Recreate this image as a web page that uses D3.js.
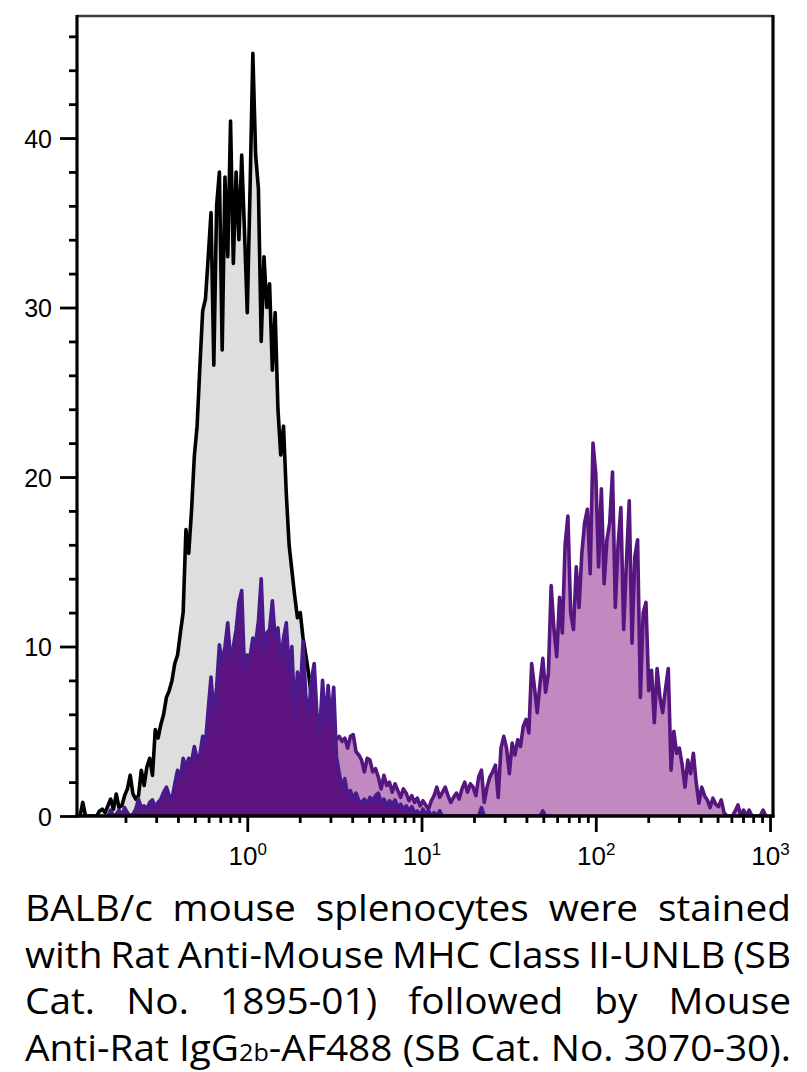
<!DOCTYPE html>
<html><head><meta charset="utf-8">
<script src="https://cdn.jsdelivr.net/npm/d3@7"></script>
<style>body{margin:0;background:#fff}</style>
</head><body><svg id="c" width="807" height="1072"></svg>
<script>
// ---------- DATA ----------
// Channel layout: channel k sits at log10(intensity) = channelStartLog + channelStepLog*k
const channelStartLog = -0.96;
const channelStepLog = 0.016;

// Unstained control (gray fill, black outline), starting at channel 0
const controlStart = 0;
const controlCounts = [
  0, 0.8, 0, 0, 0, 0, 0, 0.3, 0.4, 0.2,
  0.6, 1.0, 0.4, 1.3, 0.5, 0.6, 1.2, 1.6, 2.4, 1.3,
  1.0, 1.2, 2.7, 1.8, 2.9, 3.4, 2.4, 5.1, 4.6, 5.4,
  6.0, 7.0, 7.4, 8.0, 9.0, 9.5, 10.8, 12.0, 16.9, 15.5,
  18.0, 21.2, 23.0, 26.5, 29.8, 30.5, 33.0, 35.6, 26.6, 36.0,
  38.0, 27.5, 37.7, 33.0, 41.0, 32.6, 38.0, 34.0, 39.0, 34.5,
  29.7, 37.0, 45.0, 39.0, 37.0, 28.0, 33.0, 30.0, 31.4, 26.3,
  29.7, 24.0, 21.3, 23.0, 19.0, 16.0, 14.5, 13.0, 11.7, 12.0,
  10.5, 9.5, 8.4, 7.0, 5.5, 4.0, 3.0, 2.5, 1.5, 1.2,
  0.8, 0.5, 0.4, 0.6, 0.3, 0.5, 0.2, 0.4, 0.3, 0.2,
  0.5, 0.2, 0.3, 0.1, 0.4, 0.2, 0.3, 0.1, 0.5, 0.3,
  0.95, 0.2, 0
];

// Stained: MHC II negative population (dark purple), starting at channel 10
const negStart = 10;
const negCounts = [
  0, 0.35, 0, 0.1, 0.35, 0, 0.5, 0.2, 0, 0.1,
  0.4, 1.0, 0.5, 0.6, 0.4, 0.8, 0.95, 0.5, 0.8, 1.0,
  1.4, 1.7, 1.2, 1.0, 1.9, 2.7, 2.2, 3.4, 2.9, 3.4,
  3.2, 4.1, 3.4, 3.6, 4.7, 4.3, 6.3, 8.2, 6.0, 7.6,
  10.1, 9.0, 10.0, 11.4, 9.2, 10.0, 11.0, 12.6, 13.3, 8.6,
  9.5, 9.4, 10.5, 10.2, 11.5, 14.0, 9.8, 10.8, 11.0, 12.7,
  10.5, 11.1, 9.0, 10.5, 11.4, 8.5, 10.0, 5.9, 8.5, 7.2,
  10.3, 7.0, 6.0, 8.0, 9.0, 6.0, 5.0, 8.0, 5.5, 7.7,
  5.5, 7.6, 3.5, 2.5, 1.7, 2.2, 1.2, 1.5, 1.0, 1.35,
  0.9, 0.8, 1.0, 0.7, 1.1, 0.9, 1.2, 1.35, 0.8, 1.0,
  0.6, 0.9, 0.7, 0.95, 0.5, 0.7, 0.4, 0.6, 0.3, 0.55,
  0.2, 0.3, 0, 0.4, 0.1, 0.3, 0, 0.2, 0, 0.3,
  0, 0, 0, 0, 0, 0, 0, 0, 0, 0,
  0, 0, 0, 0, 0.5, 0, 0, 0, 0, 0,
  0, 0, 0, 0, 0, 0, 0, 0, 0, 0,
  0, 0, 0, 0, 0, 0, 0.3, 0, 0, 0
];

// Stained: MHC II positive population (light purple), starting at channel 85
const posStart = 85;
const posCounts = [
  3.0, 3.5, 4.0, 3.8, 4.5,
  4.2, 5.0, 4.5, 4.7, 4.4, 4.6, 4.0, 4.7, 4.8, 3.8,
  3.6, 3.3, 2.6, 3.4, 3.3, 2.6, 2.8, 2.3, 1.6, 2.4,
  1.8, 2.0, 1.4, 1.9, 1.5, 1.1, 1.6, 1.35, 0.9, 1.2,
  0.8, 1.06, 0.6, 0.9, 0.65, 0.4, 0.9, 1.2, 1.7, 1.1,
  1.4, 1.7, 1.2, 0.8, 1.1, 1.35, 1.0, 1.6, 2.0, 1.4,
  1.9, 1.7, 1.2, 2.3, 2.7, 0.8, 1.7, 2.3, 2.6, 3.0,
  1.1, 4.0, 4.7, 4.0, 2.5, 4.3, 3.6, 4.5, 4.1, 5.3,
  5.7, 4.9, 9.0, 7.6, 6.1, 7.8, 9.3, 7.3, 8.4, 13.6,
  11.0, 9.4, 12.9, 10.8, 16.0, 17.7, 12.0, 11.0, 14.7, 12.3,
  15.5, 17.3, 18.1, 14.3, 22.0, 20.2, 14.7, 19.3, 13.7, 16.3,
  17.3, 20.3, 12.3, 16.0, 18.2, 11.0, 15.0, 18.6, 10.2, 15.3,
  16.3, 7.0, 12.0, 12.6, 7.4, 8.6, 5.5, 8.7, 7.0, 6.1,
  7.5, 8.7, 2.7, 5.0, 3.7, 4.0, 3.0, 1.7, 3.3, 2.5,
  3.7, 2.0, 0.75, 1.7, 1.2, 0.95, 0.5, 1.05, 0.7, 0.55,
  0.95, 0.2, 0, 0, 0, 0.3, 0.65, 0, 0.35, 0,
  0.35, 0, 0, 0, 0, 0.35, 0
];

const yTickValues = [0, 10, 20, 30, 40];
const yMinorValues = [2,4,6,8,12,14,16,18,22,24,26,28,32,34,36,38,42,44,46];
const xMajorValues = [1, 10, 100, 1000];
const xMajorExponents = ["0", "1", "2", "3"];
const xMinorValues = [0.2,0.3,0.4,0.5,0.6,0.7,0.8,0.9,2,3,4,5,6,7,8,9,20,30,40,50,60,70,80,90,200,300,400,500,600,700,800,900];

const captionLines = [
  "BALB/c mouse splenocytes were stained",
  "with Rat Anti-Mouse MHC Class II-UNLB (SB",
  "Cat. No. 1895-01) followed by Mouse",
  "Anti-Rat IgG{2b}-AF488 (SB Cat. No. 3070-30)."
];

// ---------- LAYOUT ----------
const svg = d3.select("#c");
const L = 77, R = 773, T = 16, B = 816;
const x = d3.scaleLog().domain([0.1054, 1040]).range([L, R]);
const y = d3.scaleLinear().domain([0, 47.2]).range([B, T]);

function toPoints(start, counts) {
  return counts.map((c, k) => ({ v: Math.pow(10, channelStartLog + channelStepLog * (start + k)), c }));
}
const area = d3.area().x(d => x(d.v)).y0(y(0)).y1(d => y(d.c));
const line = d3.line().x(d => x(d.v)).y(d => y(d.c));

svg.append("defs").append("clipPath").attr("id", "plotclip")
  .append("rect").attr("x", L).attr("y", T).attr("width", R - L).attr("height", B - T);

const plot = svg.append("g").attr("clip-path", "url(#plotclip)");

const seriesDefs = [
  { pts: toPoints(controlStart, controlCounts), fill: "#dedede", stroke: "#000000" },
  { pts: toPoints(posStart, posCounts), fill: "#c089c0", stroke: "#56167f" },
  { pts: toPoints(negStart, negCounts), fill: "#5d1480", stroke: "#4a1a8c" }
];
seriesDefs.forEach(s => {
  plot.append("path").datum(s.pts).attr("d", area).attr("fill", s.fill);
  plot.append("path").datum(s.pts).attr("d", line)
    .attr("fill", "none").attr("stroke", s.stroke).attr("stroke-width", 3.6)
    .attr("stroke-linejoin", "round").attr("stroke-linecap", "round");
});

// Axes
const axisFont = "'Liberation Sans', Arial, sans-serif";
const yMajor = svg.append("g").attr("transform", `translate(${L},0)`)
  .call(d3.axisLeft(y).tickValues(yTickValues).tickSize(17).tickPadding(8).tickFormat(d3.format("d")));
const yMinor = svg.append("g").attr("transform", `translate(${L},0)`)
  .call(d3.axisLeft(y).tickValues(yMinorValues).tickSize(8).tickFormat(""));
const xMajor = svg.append("g").attr("transform", `translate(0,${B})`)
  .call(d3.axisBottom(x).tickValues(xMajorValues).tickSize(16).tickFormat(""));
const xMinor = svg.append("g").attr("transform", `translate(0,${B})`)
  .call(d3.axisBottom(x).tickValues(xMinorValues).tickSize(7).tickFormat(""));

[yMajor, yMinor, xMajor, xMinor].forEach(g => {
  g.select(".domain").remove();
  g.selectAll(".tick line").attr("stroke", "#000").attr("stroke-width", 2.8);
});
yMajor.selectAll(".tick text").attr("font-family", axisFont).attr("font-size", 25)
  .attr("fill", "#000").attr("dy", "0.36em");

xMajor.selectAll(".tick").each(function (d, i) {
  const t = d3.select(this).append("text")
    .attr("y", 49).attr("text-anchor", "middle")
    .attr("font-family", axisFont).attr("font-size", 26).attr("fill", "#000");
  t.append("tspan").text("10");
  t.append("tspan").attr("font-size", 17).attr("dy", -10).text(xMajorExponents[i]);
});

// Frame
svg.append("line").attr("x1", L).attr("x2", R).attr("y1", T).attr("y2", T)
  .attr("stroke", "#3c3c3c").attr("stroke-width", 2.4);
svg.append("line").attr("x1", L).attr("x2", L).attr("y1", T - 1).attr("y2", B + 1.5)
  .attr("stroke", "#000").attr("stroke-width", 3.2);
svg.append("line").attr("x1", R).attr("x2", R).attr("y1", T - 1).attr("y2", B + 1.5)
  .attr("stroke", "#000").attr("stroke-width", 3.2);
svg.append("line").attr("x1", L - 1.5).attr("x2", R + 1.5).attr("y1", B).attr("y2", B)
  .attr("stroke", "#000").attr("stroke-width", 3.4);

// Caption (justified)
const capFont = "'Open Sans', 'Noto Sans', sans-serif";
const capSize = 37;
const capLeft = 25, capRight = 791;
const capBaselines = [921, 967.5, 1014, 1060.5];
const capG = svg.append("g");

function makeWord(word) {
  const t = capG.append("text").attr("font-family", capFont).attr("font-size", capSize).attr("fill", "#000");
  word.split(/(\{[^}]*\})/).filter(s => s).forEach(p => {
    if (p.startsWith("{")) t.append("tspan").attr("font-size", 24).text(p.slice(1, -1));
    else t.append("tspan").text(p);
  });
  return t;
}
const lineWords = captionLines.map(l => l.split(" ").map(w => {
  const t = makeWord(w);
  return { t, w: t.node().getComputedTextLength() };
}));
const spaceW = capSize * 0.26;
const target = capRight - capLeft;
const last = lineWords[lineWords.length - 1];
const natLast = d3.sum(last, d => d.w) + (last.length - 1) * spaceW;
const sx = target / natLast;
lineWords.forEach((words, li) => {
  const sumW = d3.sum(words, d => d.w) * sx;
  const gap = words.length > 1 ? (target - sumW) / (words.length - 1) : 0;
  let cx = capLeft;
  words.forEach(d => {
    d.t.attr("transform", `translate(${cx},${capBaselines[li]}) scale(${sx},1)`);
    cx += d.w * sx + gap;
  });
});
</script>
</body></html>
